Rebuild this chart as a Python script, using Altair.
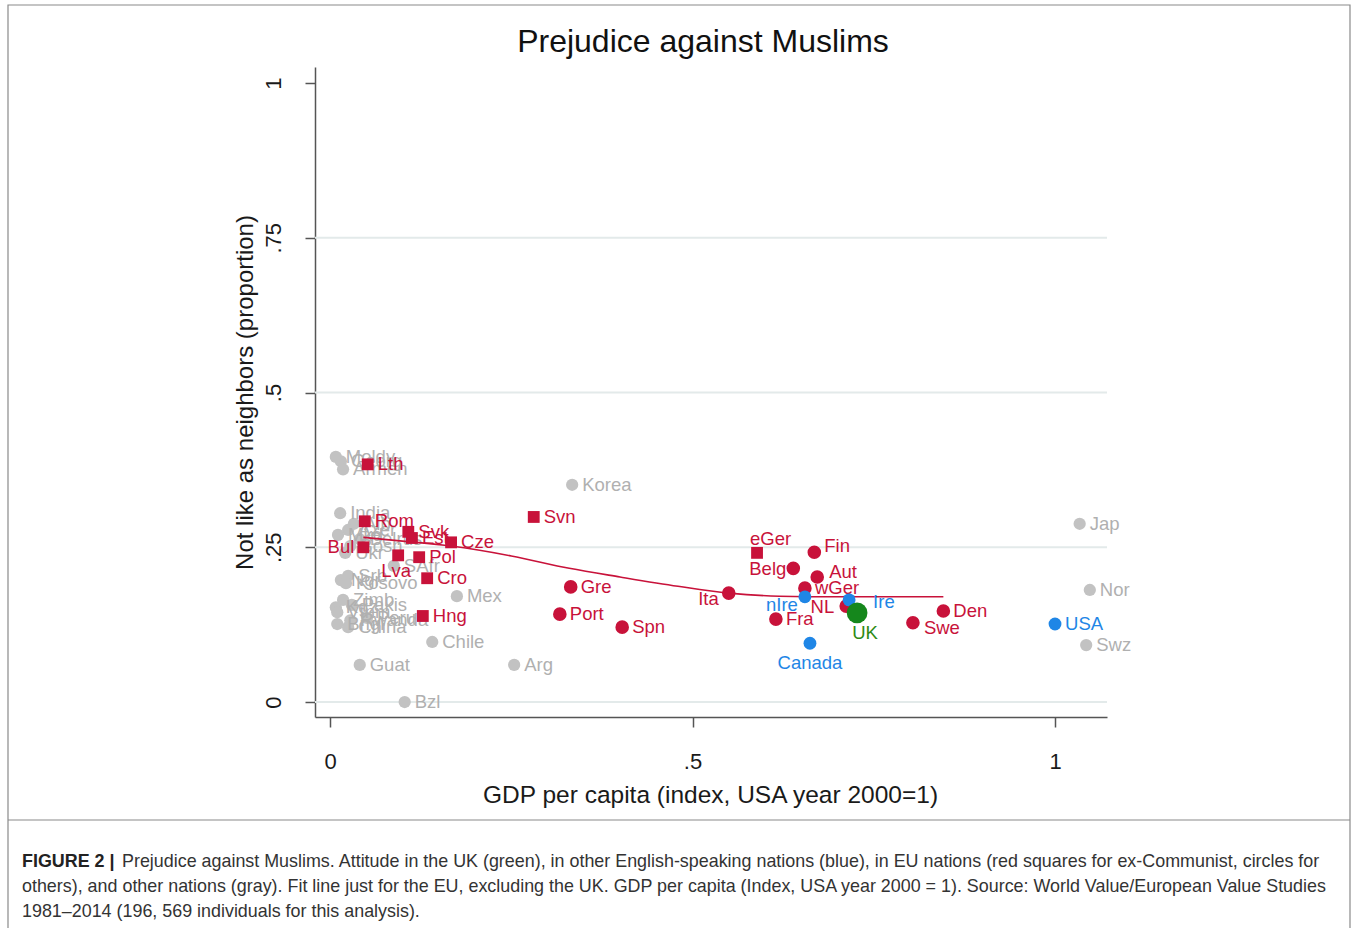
import altair as alt
import pandas as pd

# ---- data: GDP per capita index (USA 2000 = 1) and share not wanting Muslims as neighbors ----
gray_names = ["Moldv", "Georg", "Armen", "India", "Alb", "Azer", "Mkd", "Belrus", "Bosn", "Ukr",
              "SAfr", "Srb", "Ngr", "Kosovo", "Zimb", "Pakis", "Kgz", "Vtnm", "Peru", "Rwanda",
              "Bngl", "China", "Korea", "Mex", "Chile", "Arg", "Guat", "Bzl", "Jap", "Nor", "Swz"]
gray_gdp = [0.008, 0.015, 0.018, 0.014, 0.033, 0.025, 0.011, 0.041, 0.028, 0.021,
            0.088, 0.025, 0.015, 0.022, 0.018, 0.030, 0.008, 0.010, 0.051, 0.028,
            0.010, 0.025, 0.334, 0.175, 0.141, 0.254, 0.041, 0.103, 1.034, 1.048, 1.043]
gray_prej = [0.396, 0.389, 0.376, 0.305, 0.288, 0.278, 0.270, 0.263, 0.252, 0.241,
             0.220, 0.204, 0.197, 0.192, 0.165, 0.157, 0.153, 0.145, 0.136, 0.132,
             0.126, 0.121, 0.351, 0.171, 0.097, 0.060, 0.060, 0.000, 0.288, 0.181, 0.092]

excom_names = ["Lth", "Rom", "Bul", "Svk", "Est", "Cze", "Lva", "Pol", "Cro", "Hng", "Svn", "eGer"]
excom_gdp = [0.052, 0.048, 0.046, 0.108, 0.113, 0.167, 0.094, 0.123, 0.134, 0.128, 0.281, 0.589]
excom_prej = [0.384, 0.292, 0.250, 0.275, 0.265, 0.258, 0.237, 0.234, 0.200, 0.139, 0.299, 0.241]

eu_names = ["Gre", "Port", "Spn", "Ita", "Fin", "Belg", "Aut", "wGer", "NL", "Fra", "Swe", "Den"]
eu_gdp = [0.332, 0.317, 0.403, 0.550, 0.668, 0.639, 0.672, 0.655, 0.712, 0.615, 0.804, 0.846]
eu_prej = [0.186, 0.142, 0.121, 0.176, 0.242, 0.216, 0.202, 0.184, 0.155, 0.134, 0.128, 0.147]

eng_names = ["nIre", "Ire", "Canada", "USA"]
eng_gdp = [0.655, 0.716, 0.662, 1.000]
eng_prej = [0.170, 0.165, 0.095, 0.126]

uk_names = ["UK"]
uk_gdp = [0.727]
uk_prej = [0.144]

# fitted curve for EU nations (UK excluded)
fit_gdp = [0.046, 0.10, 0.167, 0.25, 0.33, 0.40, 0.48, 0.55, 0.62, 0.70, 0.78, 0.846]
fit_prej = [0.266, 0.260, 0.252, 0.236, 0.216, 0.202, 0.187, 0.176, 0.171, 0.170, 0.170, 0.170]

y_ticks = [0, 0.25, 0.5, 0.75, 1]
x_ticks = [0, 0.5, 1]
grid_vals = [0, 0.25, 0.5, 0.75]

# ---- styling ----
RED = "#c8123a"
BLUE = "#1f86e6"
GREEN = "#15871c"
GRAY_PT = "#c2c2c2"
GRAY_TX = "#b0b0b0"
FONT = "Liberation Sans"
W, H = 792, 650

# label placement (align, dx, dy); everything else sits to the right
label_place = {
    "Bul": ("right", -9, 0), "Lva": ("center", -2, 16), "eGer": ("left", -7, -14),
    "Belg": ("right", -7, 1), "Ita": ("right", -10, 6), "NL": ("right", -12, 1),
    "nIre": ("right", -7, 8), "Ire": ("left", 24, 2), "Canada": ("center", 0, 20),
    "UK": ("center", 8, 20), "Swe": ("left", 11, 5), "Fin": ("left", 10, -6),
    "Aut": ("left", 12, -5),
}
default_place = ("left", 10, 0)


def frame(names, gdp, prej):
    return pd.DataFrame({"name": names, "gdp": gdp, "prej": prej})


gray_df = frame(gray_names, gray_gdp, gray_prej)
excom_df = frame(excom_names, excom_gdp, excom_prej)
eu_df = frame(eu_names, eu_gdp, eu_prej)
eng_df = frame(eng_names, eng_gdp, eng_prej)
uk_df = frame(uk_names, uk_gdp, uk_prej)
fit_df = pd.DataFrame({"gdp": fit_gdp, "prej": fit_prej})
grid_df = pd.DataFrame({"prej": grid_vals})

# Stata-style tick labels: 0, .25, .5, .75, 1
lead_zero = (
    "datum.value == 0 ? '0' : datum.value == 1 ? '1' : "
    "substring(format(datum.value, '.2~f'), 1)"
)

x_enc = alt.X(
    "gdp:Q",
    scale=alt.Scale(domain=[-0.0207, 1.0717], nice=False, zero=False),
    axis=alt.Axis(
        values=x_ticks, labelExpr=lead_zero, labelFontSize=22, labelFont=FONT,
        labelColor="#1a1a1a", labelPadding=24, labelFlush=False, labelOverlap=False,
        tickSize=10, tickColor="#555555", tickWidth=1.5, domainColor="#555555",
        domainWidth=1.5, grid=False, title="GDP per capita (index, USA year 2000=1)",
        titleFont=FONT, titleFontSize=24.5, titleFontWeight="normal", titleColor="#1a1a1a",
        titleX=395, titleY=78, titleAlign="center", titleBaseline="middle",
    ),
)
y_enc = alt.Y(
    "prej:Q",
    scale=alt.Scale(domain=[-0.0242, 1.026], nice=False, zero=False),
    axis=alt.Axis(
        values=y_ticks, labelExpr=lead_zero, labelFontSize=22, labelFont=FONT,
        labelColor="#1a1a1a", labelAngle=270, labelAlign="center",
        labelBaseline="alphabetic", labelPadding=25, labelFlush=False, labelOverlap=False,
        tickSize=10, tickColor="#555555", tickWidth=1.5, domainColor="#555555",
        domainWidth=1.5, grid=False, title="Not like as neighbors (proportion)",
        titleFont=FONT, titleFontSize=24, titleFontWeight="normal", titleColor="#1a1a1a",
        titleAngle=270, titleX=-70, titleY=325, titleAlign="center", titleBaseline="middle",
    ),
)

layers = []

# horizontal grid lines
layers.append(
    alt.Chart(grid_df).mark_rule(color="#e3eaea", strokeWidth=2).encode(y=y_enc)
)

# other nations
layers.append(
    alt.Chart(gray_df).mark_circle(size=150, color=GRAY_PT, opacity=1).encode(x=x_enc, y=y_enc)
)


def label_layers(df, color):
    out = []
    keys = df["name"].map(lambda n: label_place.get(n, default_place))
    for place in sorted(set(keys)):
        sub = df[keys == place]
        align, dx, dy = place
        out.append(
            alt.Chart(sub).mark_text(
                align=align, baseline="middle", dx=dx, dy=dy, font=FONT,
                fontSize=18.5, color=color,
            ).encode(x=x_enc, y=y_enc, text="name:N")
        )
    return out


layers += label_layers(gray_df, GRAY_TX)

# fit line for the EU
layers.append(
    alt.Chart(fit_df).mark_line(color=RED, strokeWidth=1.6, interpolate="monotone")
    .encode(x=x_enc, y=y_enc)
)

# EU nations: ex-Communist squares, others circles
layers.append(
    alt.Chart(excom_df).mark_square(size=140, color=RED, opacity=1).encode(x=x_enc, y=y_enc)
)
layers.append(
    alt.Chart(eu_df).mark_circle(size=185, color=RED, opacity=1).encode(x=x_enc, y=y_enc)
)
layers += label_layers(excom_df, RED)
layers += label_layers(eu_df, RED)

# English-speaking nations
layers.append(
    alt.Chart(eng_df).mark_circle(size=165, color=BLUE, opacity=1).encode(x=x_enc, y=y_enc)
)
layers += label_layers(eng_df, BLUE)

# UK
layers.append(
    alt.Chart(uk_df).mark_circle(size=430, color=GREEN, opacity=1).encode(x=x_enc, y=y_enc)
)
layers += label_layers(uk_df, "#2f8a14")

# ---- title, frame and caption ----
one = pd.DataFrame({"k": [0]})
layers.append(
    alt.Chart(one).mark_text(
        text="Prejudice against Muslims", font=FONT, fontSize=32, color="#111111",
        align="center", baseline="middle",
    ).encode(x=alt.value(388), y=alt.value(-25))
)
layers.append(
    alt.Chart(one).mark_rect(fillOpacity=0, stroke="#8a8a8a", strokeWidth=1.2).encode(
        x=alt.value(-307), x2=alt.value(1035), y=alt.value(-62), y2=alt.value(875)
    )
)
layers.append(
    alt.Chart(one).mark_rule(color="#8a8a8a", strokeWidth=1.2).encode(
        x=alt.value(-307), x2=alt.value(1035), y=alt.value(753)
    )
)

CAP_FONT = "Liberation Sans"
caption_lines = [
    "Prejudice against Muslims. Attitude in the UK (green), in other English-speaking nations "
    "(blue), in EU nations (red squares for ex-Communist, circles for",
    "others), and other nations (gray). Fit line just for the EU, excluding the UK. GDP per "
    "capita (Index, USA year 2000 = 1). Source: World Value/European Value Studies",
    "1981\u20132014 (196, 569 individuals for this analysis).",
]
layers.append(
    alt.Chart(one).mark_text(
        text="FIGURE 2 |", font=CAP_FONT, fontSize=17.9, fontWeight="bold", color="#222222",
        align="left", baseline="middle",
    ).encode(x=alt.value(-293), y=alt.value(795))
)
cap_pos = [(-193, 795), (-293, 820), (-293, 845)]
for line, (cx, cy) in zip(caption_lines, cap_pos):
    layers.append(
        alt.Chart(one).mark_text(
            text=line, font=CAP_FONT, fontSize=17.9, color="#333333",
            align="left", baseline="middle",
        ).encode(x=alt.value(cx), y=alt.value(cy))
    )

chart = (
    alt.layer(*layers)
    .properties(
        width=W, height=H,
        padding={"left": 315, "top": 67, "right": 250, "bottom": 211},
        autosize=alt.AutoSizeParams(type="none"),
        background="white",
    )
    .configure_view(strokeWidth=0)
)

chart.save("out.html", embed_options={"renderer": "svg", "actions": False})
